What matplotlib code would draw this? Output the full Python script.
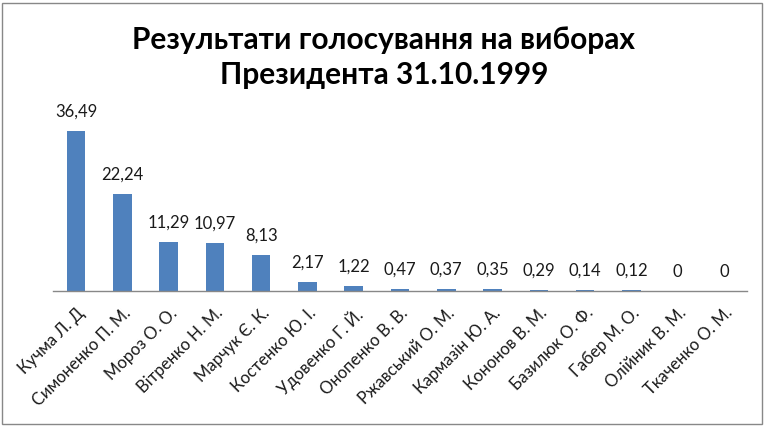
import matplotlib
matplotlib.use("Agg")
import matplotlib.pyplot as plt
from matplotlib.patches import Rectangle

candidates = ["Кучма Л. Д", "Симоненко П. М.", "Мороз О. О.", "Вітренко Н. М.",
              "Марчук Є. К.", "Костенко Ю. І.", "Удовенко Г. Й.", "Онопенко В. В.",
              "Ржавський О. М.", "Кармазін Ю. А.", "Кононов В. М.", "Базилюк О. Ф.",
              "Габер М. О.", "Олійник В. М.", "Ткаченко О. М."]
votes = [36.49, 22.24, 11.29, 10.97, 8.13, 2.17, 1.22, 0.47,
         0.37, 0.35, 0.29, 0.14, 0.12, 0, 0]
value_labels = ["36,49", "22,24", "11,29", "10,97", "8,13", "2,17", "1,22", "0,47",
                "0,37", "0,35", "0,29", "0,14", "0,12", "0", "0"]

plt.rcParams['font.family'] = ['Lato', 'DejaVu Sans']

fig = plt.figure(figsize=(7.68, 4.26), dpi=100)
ax = fig.add_axes([53 / 768, (426 - 291) / 426, 694 / 768, 175 / 426])

x = list(range(len(candidates)))
ax.bar(x, votes, width=0.4, color="#4F81BD")
ax.set_xlim(-0.5, len(candidates) - 0.5)
ax.set_ylim(0, 40)

# value labels above bars
for xi, v, lab in zip(x, votes, value_labels):
    ax.text(xi, v + 2.6, lab, ha="center", va="bottom", fontsize=12, color="#1a1a1a")

ax.set_xticks(x)
ax.set_xticklabels(candidates, rotation=45, ha="right", rotation_mode="anchor",
                   fontsize=12, color="#1a1a1a")
ax.tick_params(axis="x", length=0, pad=10)
ax.set_yticks([])
for s in ["top", "right", "left"]:
    ax.spines[s].set_visible(False)
ax.spines["bottom"].set_color("#888888")
ax.spines["bottom"].set_linewidth(1)

fig.text(0.5, 1 - 26 / 426, "Результати голосування на виборах\nПрезидента 31.10.1999",
         ha="center", va="top", fontsize=21.5, fontweight="bold", linespacing=1.3)

fig.patches.append(Rectangle((2 / 768, 2 / 426), 760 / 768, 421 / 426,
                             transform=fig.transFigure, fill=False,
                             edgecolor="#888888", linewidth=1))

fig.savefig("out.png", dpi=100)
